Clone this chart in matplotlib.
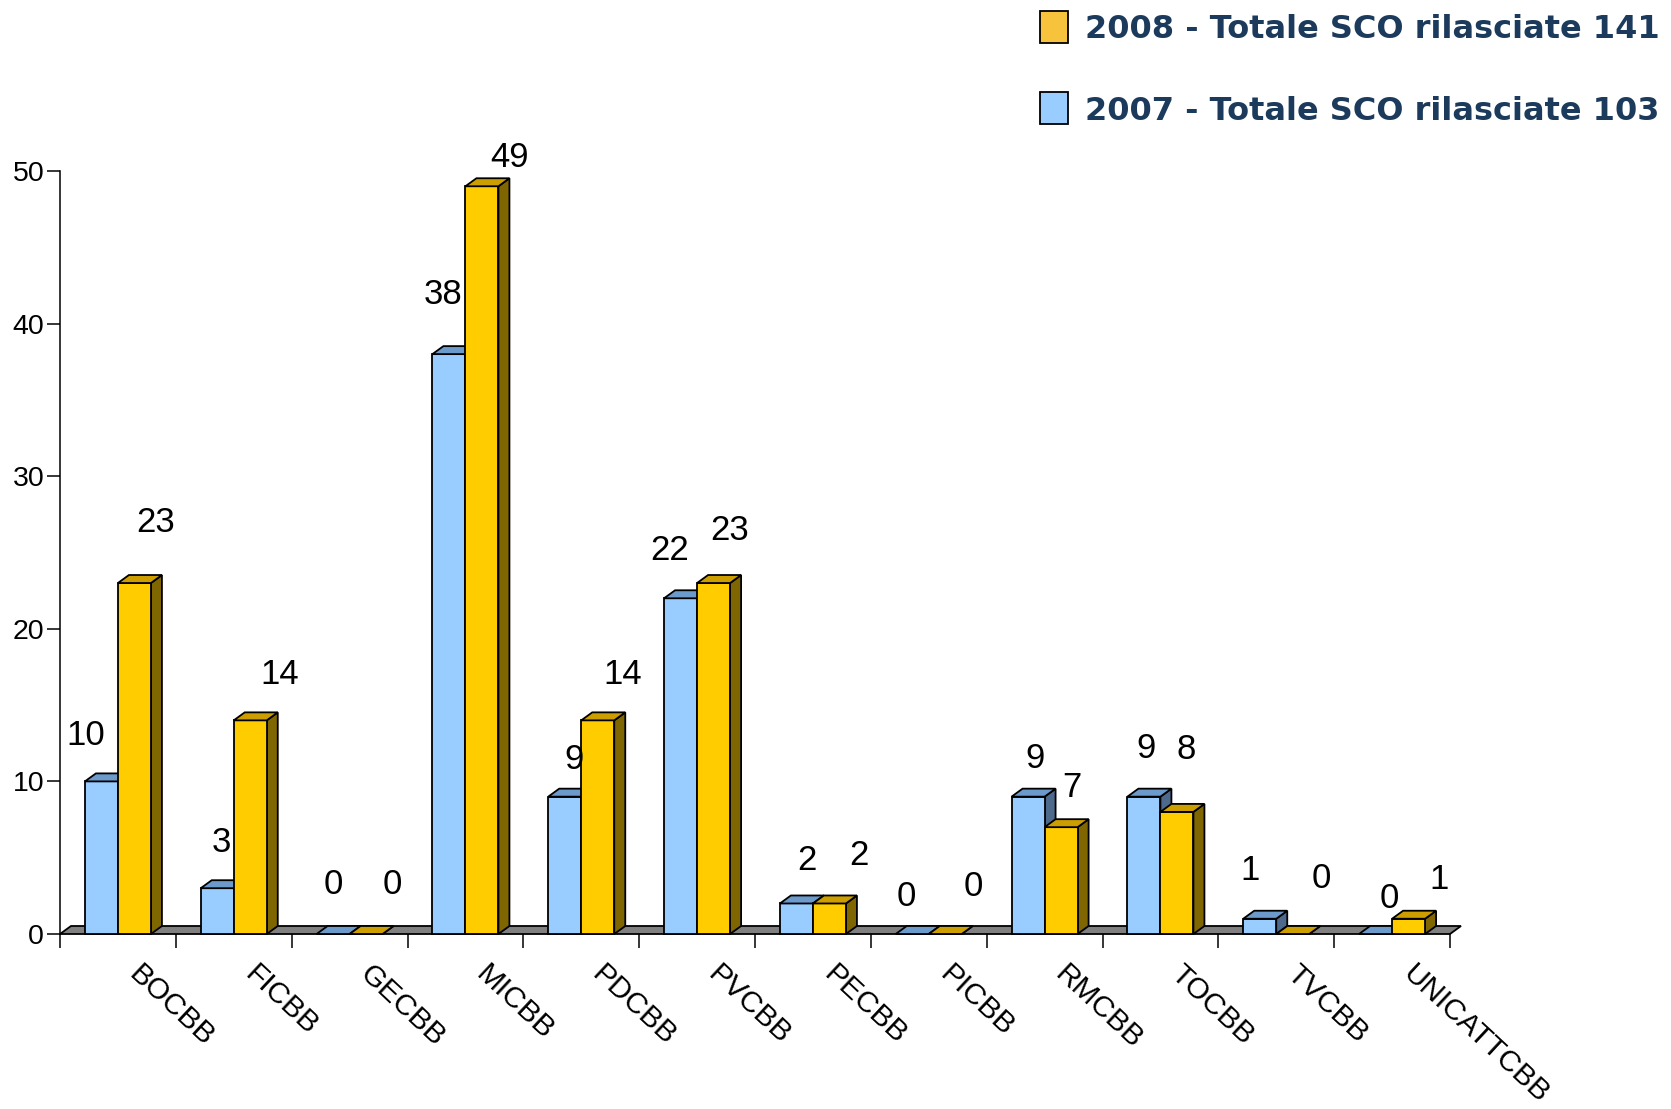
import matplotlib
matplotlib.use('Agg')
import matplotlib.pyplot as plt
from matplotlib.patches import Polygon, Rectangle

# data
categories = ['BOCBB', 'FICBB', 'GECBB', 'MICBB', 'PDCBB', 'PVCBB',
              'PECBB', 'PICBB', 'RMCBB', 'TOCBB', 'TVCBB', 'UNICATTCBB']
sco_2007 = [10, 3, 0, 38, 9, 22, 2, 0, 9, 9, 1, 0]
sco_2008 = [23, 14, 0, 49, 14, 23, 2, 0, 7, 8, 0, 1]
legend_labels = ['2008 - Totale SCO rilasciate 141',
                 '2007 - Totale SCO rilasciate 103']

# value label placement (pixels from the top of each bar), as in the original
nudge_2007 = [(-16, 46), (4, 46), (0, 49), (-6, 60), (9, 37), (-11, 48),
              (11, 43), (-6, 38), (7, 38), (2, 48), (-10, 48), (14, 35)]
nudge_2008 = [(21, 61), (29, 46), (26, 49), (28, 29), (25, 46), (16, 53),
              (30, 48), (28, 47), (11, 40), (9, 62), (29, 55), (30, 39)]

W, H = 1671, 1109
PT = 0.72  # points per pixel at dpi 100
plt.rcParams['font.family'] = ['Liberation Sans', 'DejaVu Sans']

fig = plt.figure(figsize=(W / 100, H / 100), dpi=100)
# axes placed in pixel terms: x 60..1450, y(0)=934, y(50)=171
ax_l, ax_r, ax_b, ax_t = 60, 1450, 934, 171
ax = fig.add_axes([ax_l / W, 1 - ax_b / H, (ax_r - ax_l) / W, (ax_b - ax_t) / H])
n = len(categories)
ax.set_xlim(0, n)
ax.set_ylim(0, 50)

# depth of the fake 3d in data units
px_x = (ax_r - ax_l) / n
px_y = (ax_b - ax_t) / 50
dx = 11 / px_x
dy = 8 / px_y

colors = {
    '2007': ('#99ccff', '#6b9acb', '#4d6a8c'),
    '2008': ('#ffcc00', '#cc9e00', '#806600'),
}
lw = 1.3


def bar3d(x0, w, h, face, top, side, z):
    front = Rectangle((x0, 0), w, h, facecolor=face, edgecolor='black', lw=lw, zorder=z)
    topf = Polygon([(x0, h), (x0 + w, h), (x0 + w + dx, h + dy), (x0 + dx, h + dy)],
                   closed=True, facecolor=top, edgecolor='black', lw=lw, zorder=z)
    sidef = Polygon([(x0 + w, 0), (x0 + w + dx, dy), (x0 + w + dx, h + dy), (x0 + w, h)],
                    closed=True, facecolor=side, edgecolor='black', lw=lw, zorder=z)
    for p in (sidef, front, topf):
        p.set_clip_on(False)
        ax.add_patch(p)


# floor
floor = Polygon([(0, 0), (n, 0), (n + dx, dy), (dx, dy)], closed=True,
                facecolor='#808080', edgecolor='black', lw=lw, zorder=1, clip_on=False)
ax.add_patch(floor)

bw = 0.285
z = 2
for i in range(n):
    c = i + 0.5
    bar3d(c - bw, bw, sco_2007[i], *colors['2007'], z)
    z += 1
    bar3d(c, bw, sco_2008[i], *colors['2008'], z)
    z += 1
    nx, ny = nudge_2007[i]
    ax.annotate(str(sco_2007[i]), (c - bw / 2, sco_2007[i]), xytext=(nx * PT, ny * PT),
                textcoords='offset points', ha='center', va='center', fontsize=25,
                annotation_clip=False, zorder=100)
    nx, ny = nudge_2008[i]
    ax.annotate(str(sco_2008[i]), (c + bw / 2, sco_2008[i]), xytext=(nx * PT, ny * PT),
                textcoords='offset points', ha='center', va='center', fontsize=25,
                annotation_clip=False, zorder=100)
    ax.annotate(categories[i], (c, 0), xytext=(17.5, -18.5), textcoords='offset points',
                rotation=-43, rotation_mode='anchor', ha='left', va='top', fontsize=21.5,
                annotation_clip=False)

# axes styling
for s in ['top', 'right', 'bottom']:
    ax.spines[s].set_visible(False)
ax.spines['left'].set_linewidth(1.1)
ax.set_yticks(range(0, 51, 10))
ax.set_xticks(range(0, n + 1))
ax.set_xticklabels([])
ax.tick_params(axis='y', length=9.4, width=1.1, labelsize=20.5, pad=2)
ax.tick_params(axis='x', length=10, width=1.1)
ax.patch.set_visible(False)

# legend drawn by hand at top right
leg_colors = ['#f8c33c', '#99ccff']
leg_y = [(11, 43), (92, 124)]
for lab, col, (y0, y1) in zip(legend_labels, leg_colors, leg_y):
    fig.patches.append(Rectangle((1040 / W, 1 - y1 / H), 28 / W, (y1 - y0) / H,
                                 facecolor=col, edgecolor='black', lw=1.3,
                                 transform=fig.transFigure, figure=fig))
    fig.text(1085 / W, 1 - ((y0 + y1) / 2 + 3) / H, lab, ha='left', va='center',
             fontsize=23, fontweight='bold', color='#1b3a5c', family='DejaVu Sans')

fig.savefig('out.png', dpi=100)
